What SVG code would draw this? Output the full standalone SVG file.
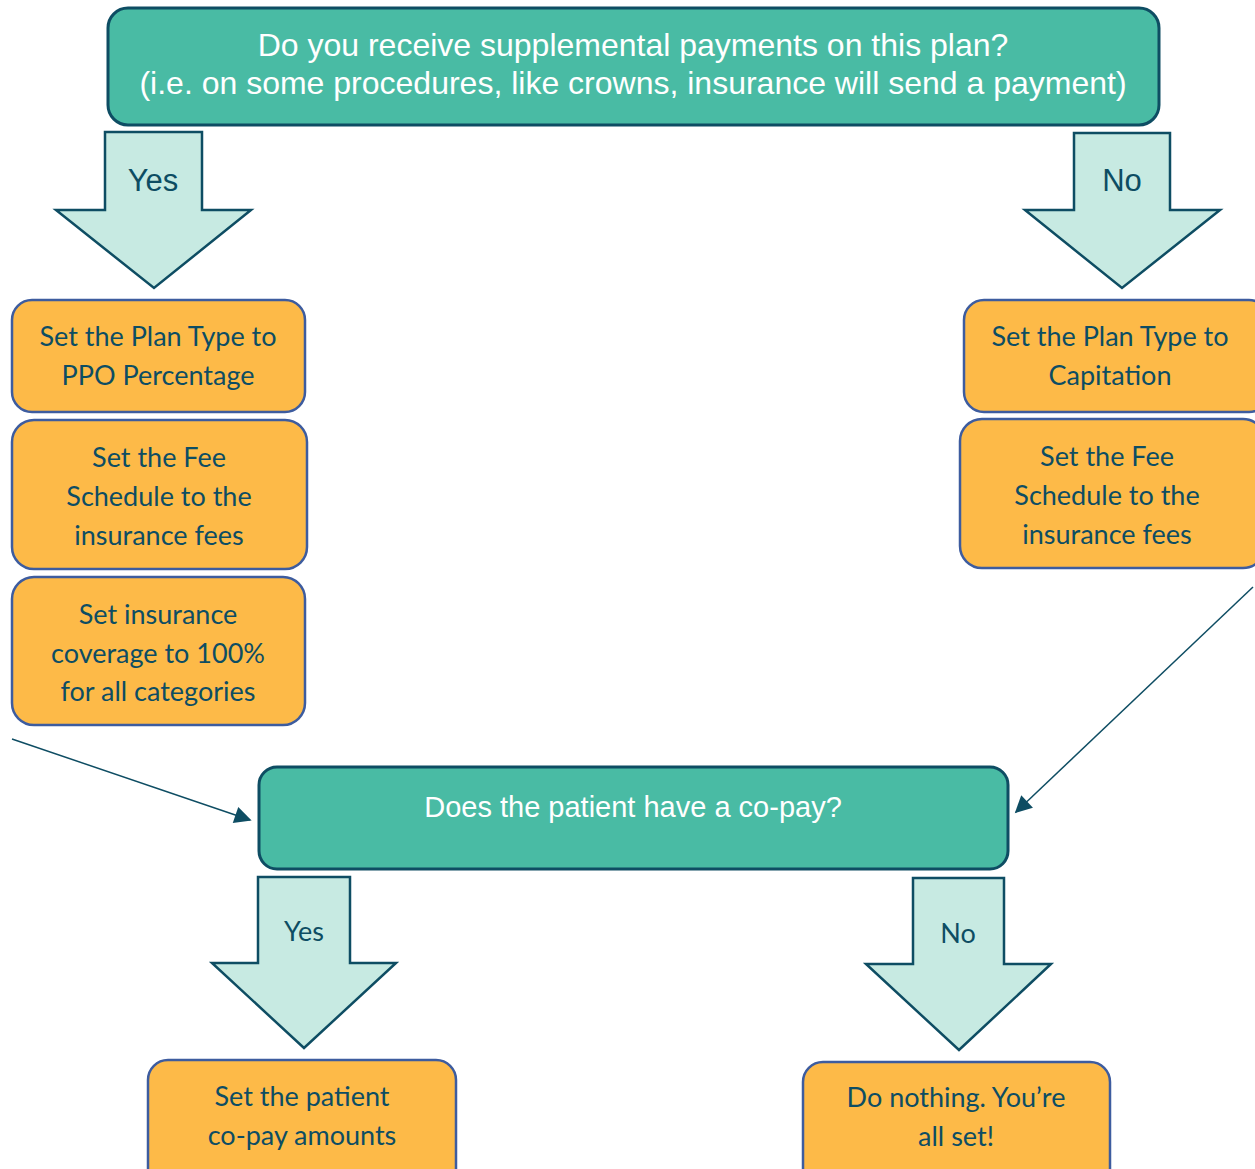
<svg xmlns="http://www.w3.org/2000/svg" width="1255" height="1169" viewBox="0 0 1255 1169">
<style>
.q{fill:#49BBA4;stroke:#0E4D63;stroke-width:3}
.qt{fill:#fff;font-family:"Liberation Sans",Arial,sans-serif;font-size:32px;text-anchor:middle;dominant-baseline:central}
.o{fill:#FDBA48;stroke:#3D5C9F;stroke-width:2.5}
.ot{fill:#0D4D63;font-family:Lato,"Open Sans",sans-serif;font-size:27px;text-anchor:middle;dominant-baseline:central}
.a{fill:#C7EAE2;stroke:#0E4D63;stroke-width:2.5;stroke-linejoin:miter}
.at{fill:#0D4D63;font-family:"Liberation Sans",Arial,sans-serif;font-size:31px;text-anchor:middle;dominant-baseline:central}
.at2{fill:#0D4D63;font-family:Lato,"Open Sans",sans-serif;font-size:27px;text-anchor:middle;dominant-baseline:central}
.c{stroke:#0E4D63;stroke-width:1.5;fill:none}
</style>
<defs>
<marker id="ah" viewBox="0 0 10 10" refX="9" refY="5" markerWidth="19" markerHeight="17" markerUnits="userSpaceOnUse" orient="auto">
<path d="M0,0 L10,5 L0,10 z" fill="#0E4D63"/>
</marker>
</defs>
<rect width="1255" height="1169" fill="#fff"/>
<g id="q1">
<rect class="q" x="108" y="8" width="1051" height="117" rx="20"/>
<text class="qt" x="633" y="45">Do you receive supplemental payments on this plan?</text>
<text class="qt" x="633" y="83">(i.e. on some procedures, like crowns, insurance will send a payment)</text>
</g>
<g id="yes1">
<path class="a" d="M105,132 H202 V210 H251 L154,288 L56,210 H105 Z"/>
<text class="at" x="153" y="180">Yes</text>
</g>
<g id="no1">
<path class="a" d="M1074,133 H1170 V210 H1220 L1122,288 L1025,210 H1074 Z"/>
<text class="at" x="1122" y="180">No</text>
</g>
<g id="l1">
<rect class="o" x="12" y="300" width="293" height="112" rx="20"/>
<text class="ot" x="158" y="335">Set the Plan Type to</text>
<text class="ot" x="158" y="374">PPO Percentage</text>
</g>
<g id="l2">
<rect class="o" x="12" y="420" width="295" height="149" rx="22"/>
<text class="ot" x="159" y="456">Set the Fee</text>
<text class="ot" x="159" y="495">Schedule to the</text>
<text class="ot" x="159" y="534">insurance fees</text>
</g>
<g id="l3">
<rect class="o" x="12" y="577" width="293" height="148" rx="22"/>
<text class="ot" x="158" y="613">Set insurance</text>
<text class="ot" x="158" y="652">coverage to 100%</text>
<text class="ot" x="158" y="690">for all categories</text>
</g>
<g id="r1">
<rect class="o" x="964" y="300" width="305" height="112" rx="20"/>
<text class="ot" x="1110" y="335">Set the Plan Type to</text>
<text class="ot" x="1110" y="374">Capitation</text>
</g>
<g id="r2">
<rect class="o" x="960" y="419" width="305" height="149" rx="22"/>
<text class="ot" x="1107" y="455">Set the Fee</text>
<text class="ot" x="1107" y="494">Schedule to the</text>
<text class="ot" x="1107" y="533">insurance fees</text>
</g>
<g id="connectors">
<line class="c" x1="12" y1="739" x2="250" y2="820" marker-end="url(#ah)"/>
<line class="c" x1="1253" y1="587" x2="1016" y2="812" marker-end="url(#ah)"/>
</g>
<g id="q2">
<rect class="q" x="259" y="767" width="749" height="102" rx="18"/>
<text class="qt" x="633" y="807" style="font-size:29px">Does the patient have a co-pay?</text>
</g>
<g id="yes2">
<path class="a" d="M258,877 H350 V963 H396 L304,1048 L212,963 H258 Z"/>
<text class="at2" x="304" y="930">Yes</text>
</g>
<g id="no2">
<path class="a" d="M913,878 H1004 V964 H1051 L959,1050 L866,964 H913 Z"/>
<text class="at2" x="958" y="932">No</text>
</g>
<g id="b1">
<rect class="o" x="148" y="1060" width="308" height="130" rx="20"/>
<text class="ot" x="302" y="1095">Set the patient</text>
<text class="ot" x="302" y="1134">co-pay amounts</text>
</g>
<g id="b2">
<rect class="o" x="803" y="1062" width="307" height="130" rx="20"/>
<text class="ot" x="956" y="1096">Do nothing. You’re</text>
<text class="ot" x="956" y="1135">all set!</text>
</g>
</svg>
